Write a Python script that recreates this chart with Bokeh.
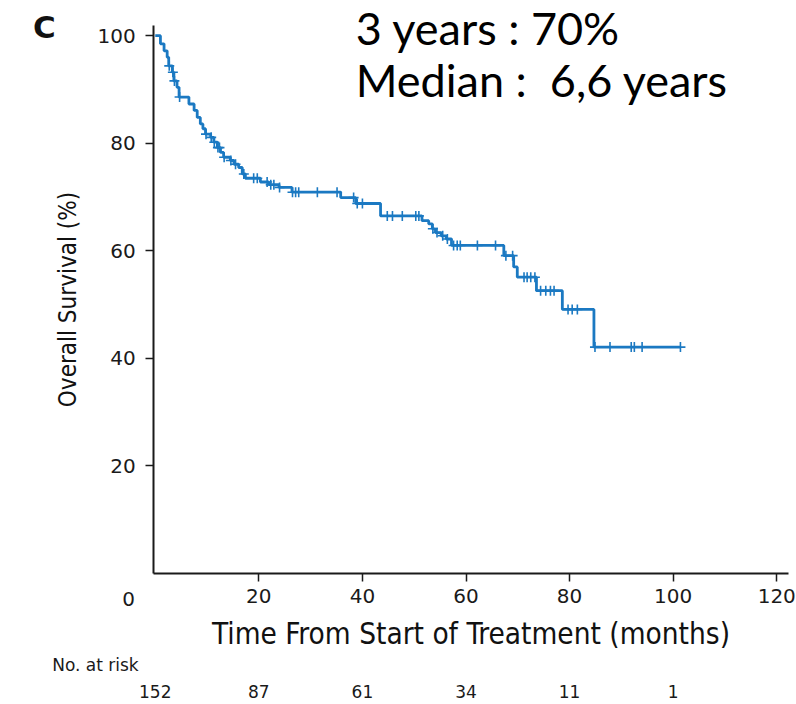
import numpy as np
from bokeh.plotting import figure
from bokeh.models import Label, FixedTicker, Range1d
from bokeh.embed import file_html
from bokeh.resources import INLINE

# ---- data ----
event_times = [0, 1.0, 1.7, 2.3, 2.6, 3.3, 3.6, 4.2, 4.6, 6.5,
               7.5, 8.1, 8.7, 9.2, 9.7, 10.7, 11.3, 12.0, 12.6, 13.2,
               14.5, 15.2, 16.1, 16.8, 17.4, 20.3, 21.9, 23.9, 26.4, 35.8,
               38.7, 43.5, 51.5, 52.8, 53.5, 54.1, 55.2, 56.2, 57.2, 67.3,
               69.2, 69.9, 73.6, 78.6, 84.7]
event_surv = [100, 98.5, 97.2, 96.0, 94.4, 93.2, 91.6, 90.4, 88.6, 87.3,
              86.1, 84.8, 83.6, 82.7, 81.7, 81.1, 80.2, 79.2, 78.3, 77.4,
              76.8, 76.1, 75.5, 74.3, 73.5, 72.8, 72.3, 71.8, 70.9, 69.9,
              68.8, 66.5, 65.6, 65.0, 64.1, 63.4, 62.8, 62.2, 61.0, 59.1,
              57.0, 55.1, 52.6, 49.1, 42.1]
last_followup = 101.4
censor_times = [2.7, 3.4, 3.7, 4.7, 9.8, 10.8, 11.4, 12.1, 12.4, 13.3,
                14.6, 15.5, 17.1, 19.0, 19.7, 21.6, 22.3, 22.9, 24.0, 26.5,
                27.1, 27.7, 31.3, 35.1, 38.3, 39.0, 40.0, 44.8, 45.8, 47.7,
                50.3, 50.9, 53.6, 54.4, 55.5, 56.4, 57.6, 58.3, 58.9, 62.2,
                65.7, 67.7, 69.0, 71.2, 71.8, 72.5, 73.3, 74.4, 75.4, 76.3,
                77.0, 79.7, 80.5, 81.5, 84.9, 87.8, 91.9, 92.5, 94.0, 101.4]
risk_times = [0, 20, 40, 60, 80, 100]
risk_counts = ["152", "87", "61", "34", "11", "1"]
x_ticks = [20, 40, 60, 80, 100, 120]
y_ticks = [20, 40, 60, 80, 100]
x_axis_bounds = (-0.3, 122.3)
y_axis_bounds = (0, 101.9)

BLUE = "#1b79c2"
DARK = "#1a1a1a"
COND = "DejaVu Sans Condensed, Liberation Sans"

# the frame fills the whole canvas; axes are drawn at fixed data locations
p = figure(width=796, height=704, output_backend="svg", toolbar_location=None,
           x_range=Range1d(-29.88, 123.81), y_range=Range1d(-24.36, 106.55),
           min_border=0)
p.grid.visible = False
p.outline_line_color = None
p.background_fill_color = "white"

# step curve
xs = event_times + [last_followup]
ys = event_surv + [event_surv[-1]]
p.step(xs, ys, mode="after", line_color=BLUE, line_width=2.8)

# censor marks
idx = np.searchsorted(np.array(event_times), np.array(censor_times), side="right") - 1
cy = [event_surv[i] for i in idx]
p.scatter(censor_times, cy, marker="cross", size=10, line_color=BLUE, line_width=1.6)

# axes
for ax in (p.xaxis[0], p.yaxis[0]):
    ax.axis_line_color = DARK
    ax.axis_line_width = 2
    ax.major_tick_line_color = DARK
    ax.major_tick_line_width = 1.5
    ax.major_tick_out = 8
    ax.major_tick_in = 0
    ax.minor_tick_line_color = None
    ax.major_label_text_font = "DejaVu Sans"
    ax.major_label_text_font_size = "20px"
    ax.major_label_text_color = DARK
    ax.axis_label_text_font = COND
    ax.axis_label_text_font_style = "normal"
    ax.axis_label_text_color = "#111111"

p.xaxis.fixed_location = 0
p.xaxis.bounds = x_axis_bounds
p.yaxis.fixed_location = x_axis_bounds[0]
p.yaxis.bounds = y_axis_bounds
p.xaxis.ticker = FixedTicker(ticks=x_ticks)
p.yaxis.ticker = FixedTicker(ticks=y_ticks)
p.xaxis.major_label_standoff = 8
p.yaxis.major_label_standoff = 10
p.xaxis.axis_label = "Time From Start of Treatment (months)"
p.xaxis.axis_label_text_font_size = "29.5px"
p.xaxis.axis_label_standoff = 10
p.yaxis.axis_label = "Overall Survival (%)"
p.yaxis.axis_label_text_font_size = "24px"
p.yaxis.axis_label_standoff = 12

# annotation text
p.add_layout(Label(x=38.7, y=101.4, text="3 years : 70%", text_font="Lato",
                   text_font_size="45px", text_color="#000000",
                   text_align="left", text_baseline="alphabetic"))
p.add_layout(Label(x=38.7, y=91.7, text="Median :\u00a0 6,6 years", text_font="Lato",
                   text_font_size="45px", text_color="#000000",
                   text_align="left", text_baseline="alphabetic"))

p.add_layout(Label(x=-21.4, y=101.7, text="C", text_font="DejaVu Sans",
                   text_font_style="bold", text_font_size="31px", text_color="#111111",
                   text_align="center", text_baseline="middle"))
p.add_layout(Label(x=-5.16, y=-4.65, text="0", text_font="DejaVu Sans",
                   text_font_size="20px", text_color=DARK,
                   text_align="center", text_baseline="middle"))
p.add_layout(Label(x=-19.9, y=-17.0, text="No. at risk", text_font="DejaVu Sans",
                   text_font_size="17px", text_color=DARK,
                   text_align="left", text_baseline="middle"))
for t, n in zip(risk_times, risk_counts):
    p.add_layout(Label(x=t, y=-21.9, text=n, text_font="DejaVu Sans",
                       text_font_size="17px", text_color=DARK,
                       text_align="center", text_baseline="middle"))

open("out.html", "w").write(file_html(p, INLINE))
